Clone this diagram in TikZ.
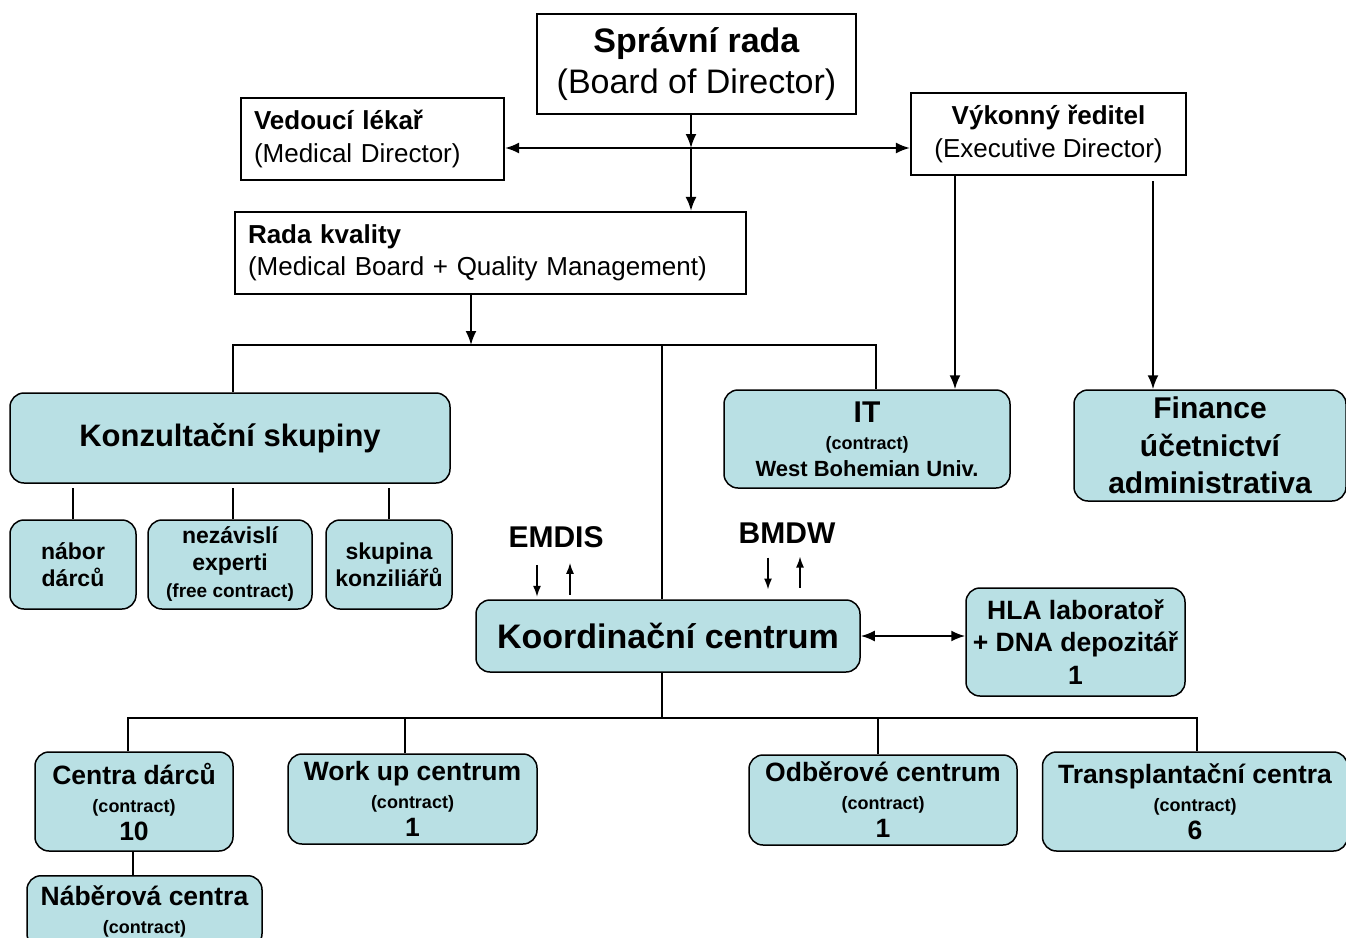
\documentclass[tikz,border=0pt]{standalone}
\usepackage{fontspec}
\setmainfont{Liberation Sans}
\usepackage{tikz}
\usetikzlibrary{arrows.meta}
\usetikzlibrary{positioning}
\definecolor{boxblue}{RGB}{185,224,228}
\newcommand{\fsz}[2]{\fontsize{#1}{#2}\selectfont}

\begin{document}
\begin{tikzpicture}[x=1pt,y=-1pt,>={Latex[length=14pt,width=11pt]},
    white box/.style={draw,line width=2.2pt,fill=white,inner xsep=13pt,inner ysep=0pt},
    blue box/.style={draw,line width=1.5pt,fill=boxblue,rounded corners=14pt,align=center,inner sep=0pt},
    link/.style={line width=2pt},
    thin link/.style={line width=1.6pt,>={Latex[length=11pt,width=8pt]}}]

    \useasboundingbox (0,0) rectangle (1346,937);
    \clip (0,0) rectangle (1346,937);

    % top of the tree
    \node[white box,minimum width=319pt,minimum height=100pt,align=center,font=\fsz{34}{41}] (board) at (696.5,64)
        {\textbf{Správní rada}\\(Board of Director)};
    \node[white box,minimum height=82pt,text width=237pt,align=left,font=\fsz{26}{33}] (meddir) at (372.5,139)
        {\textbf{Vedoucí lékař}\\(Medical Director)};
    \node[white box,minimum width=275pt,minimum height=82pt,align=center,font=\fsz{26}{33}] (execdir) at (1048.5,134)
        {\textbf{Výkonný ředitel}\\(Executive Director)};
    \node[white box,minimum height=82pt,text width=485pt,align=left,font=\fsz{26}{32}] (quality) at (490.5,253)
        {\textbf{Rada kvality}\\(Medical Board + Quality Management)};

    % middle row
    \node[blue box,minimum width=440pt,minimum height=90pt,font=\bfseries\fsz{31}{37}] (konz) at (230,438) {Konzultační skupiny};
    \node[blue box,minimum width=126pt,minimum height=89pt,font=\bfseries\fsz{23}{27}] (nabor) at (73,564.5) {nábor\\dárců};
    \node[blue box,minimum width=164pt,minimum height=89pt,font=\bfseries\fsz{23}{27}] (nezav) at (230,564.5)
        {nezávislí\\experti\\{\fsz{19}{27}(free contract)}};
    \node[blue box,minimum width=126pt,minimum height=89pt,font=\bfseries\fsz{23}{27}] (skup) at (389,564.5) {skupina\\konziliářů};
    \node[blue box,minimum width=286pt,minimum height=98pt,font=\bfseries\fsz{22}{27}] (it) at (867,439)
        {{\fsz{30}{27}IT}\\{\fsz{18}{27}(contract)}\\West Bohemian Univ.};
    \node[blue box,minimum width=272pt,minimum height=111pt,font=\bfseries\fsz{30}{37.5}] (fin) at (1210,445.5)
        {Finance\\účetnictví\\administrativa};

    \node[inner sep=0pt,font=\bfseries\fsz{30}{36}] (emdis) at (556,537) {EMDIS};
    \node[inner sep=0pt,font=\bfseries\fsz{30}{36}] (bmdw) at (787,533) {BMDW};
    \node[blue box,minimum width=384pt,minimum height=72pt,font=\bfseries\fsz{34}{40}] (koord) at (668,636) {Koordinační centrum};
    \node[blue box,minimum width=219pt,minimum height=108pt,font=\bfseries\fsz{26.5}{32.5}] (hla) at (1075.5,642)
        {HLA laboratoř\\+ DNA depozitář\\1};

    % bottom row
    \node[blue box,minimum width=198pt,minimum height=99pt,font=\bfseries\fsz{26.5}{28}] (centra) at (134,801.5)
        {Centra dárců\\{\fsz{18}{28}(contract)}\\10};
    \node[blue box,minimum width=249pt,minimum height=90pt,font=\bfseries\fsz{26.5}{28}] (workup) at (412.5,799)
        {Work up centrum\\{\fsz{18}{28}(contract)}\\1};
    \node[blue box,minimum width=268pt,minimum height=90pt,font=\bfseries\fsz{26.5}{28}] (odber) at (883,800)
        {Odběrové centrum\\{\fsz{18}{28}(contract)}\\1};
    \node[blue box,minimum width=305pt,minimum height=99pt,font=\bfseries\fsz{26.5}{28}] (transpl) at (1195,801.5)
        {Transplantační centra\\{\fsz{18}{28}(contract)}\\6};
    \node[blue box,anchor=north,minimum width=235pt,minimum height=72pt,font=\bfseries\fsz{26.5}{28}] (naber) at (144.5,875)
        {Náběrová centra\\{\fsz{18}{28}(contract)}};

    \coordinate (cross) at (691,148);
    \coordinate (qbus) at (471,345);
    \coordinate (kbus) at (662,718);

    % connectors
    \draw[link,->] (board.south -| cross) -- (cross);
    \draw[link,<->] (meddir.east |- cross) -- (execdir.west |- cross);
    \draw[link,->] (cross) -- (quality.north -| cross);
    \draw[link,->] (quality.south -| qbus) -- (qbus);
    \draw[link] ([xshift=3pt]konz.north) |- (qbus) -| ([xshift=9pt]it.north);
    \draw[link] (koord.north -| kbus) -- (qbus -| kbus);
    \draw[link,->] ([xshift=-93.5pt]execdir.south) -- ([xshift=-93.5pt]execdir.south |- it.north);
    \draw[link,->,shorten <=5pt] ([xshift=104.5pt]execdir.south) -- ([xshift=104.5pt]execdir.south |- fin.north);

    \draw[thin link,shorten >=4pt] (nabor.north) -- (nabor.north |- konz.south);
    \draw[thin link,shorten >=4pt] ([xshift=3pt]nezav.north) -- ([xshift=3pt]nezav.north |- konz.south);
    \draw[thin link,shorten >=4pt] (skup.north) -- (skup.north |- konz.south);

    \draw[thin link,->] ([xshift=-19pt,yshift=-17pt]emdis.south) -- ++(0,32);
    \draw[thin link,->] ([xshift=14pt,yshift=-47pt]emdis.south) -- ++(0,-32);
    \draw[thin link,->] ([xshift=-19pt,yshift=-14pt]bmdw.south) -- ++(0,32);
    \draw[thin link,->] ([xshift=13pt,yshift=-44pt]bmdw.south) -- ++(0,-31);

    \draw[link,<->] (koord.east) -- (hla.west |- koord.east);
    \draw[link] (koord.south -| kbus) -- (kbus);
    \draw[link] ([xshift=-6pt]centra.north) |- (kbus) -| ([xshift=2pt]transpl.north);
    \draw[link] ([xshift=-7.5pt]workup.north) -- ([xshift=-7.5pt]workup.north |- kbus);
    \draw[link] ([xshift=-5pt]odber.north) -- ([xshift=-5pt]odber.north |- kbus);
    \draw[link] ([xshift=-1pt]centra.south) -- ([xshift=-1pt]centra.south |- naber.north);
\end{tikzpicture}
\end{document}
